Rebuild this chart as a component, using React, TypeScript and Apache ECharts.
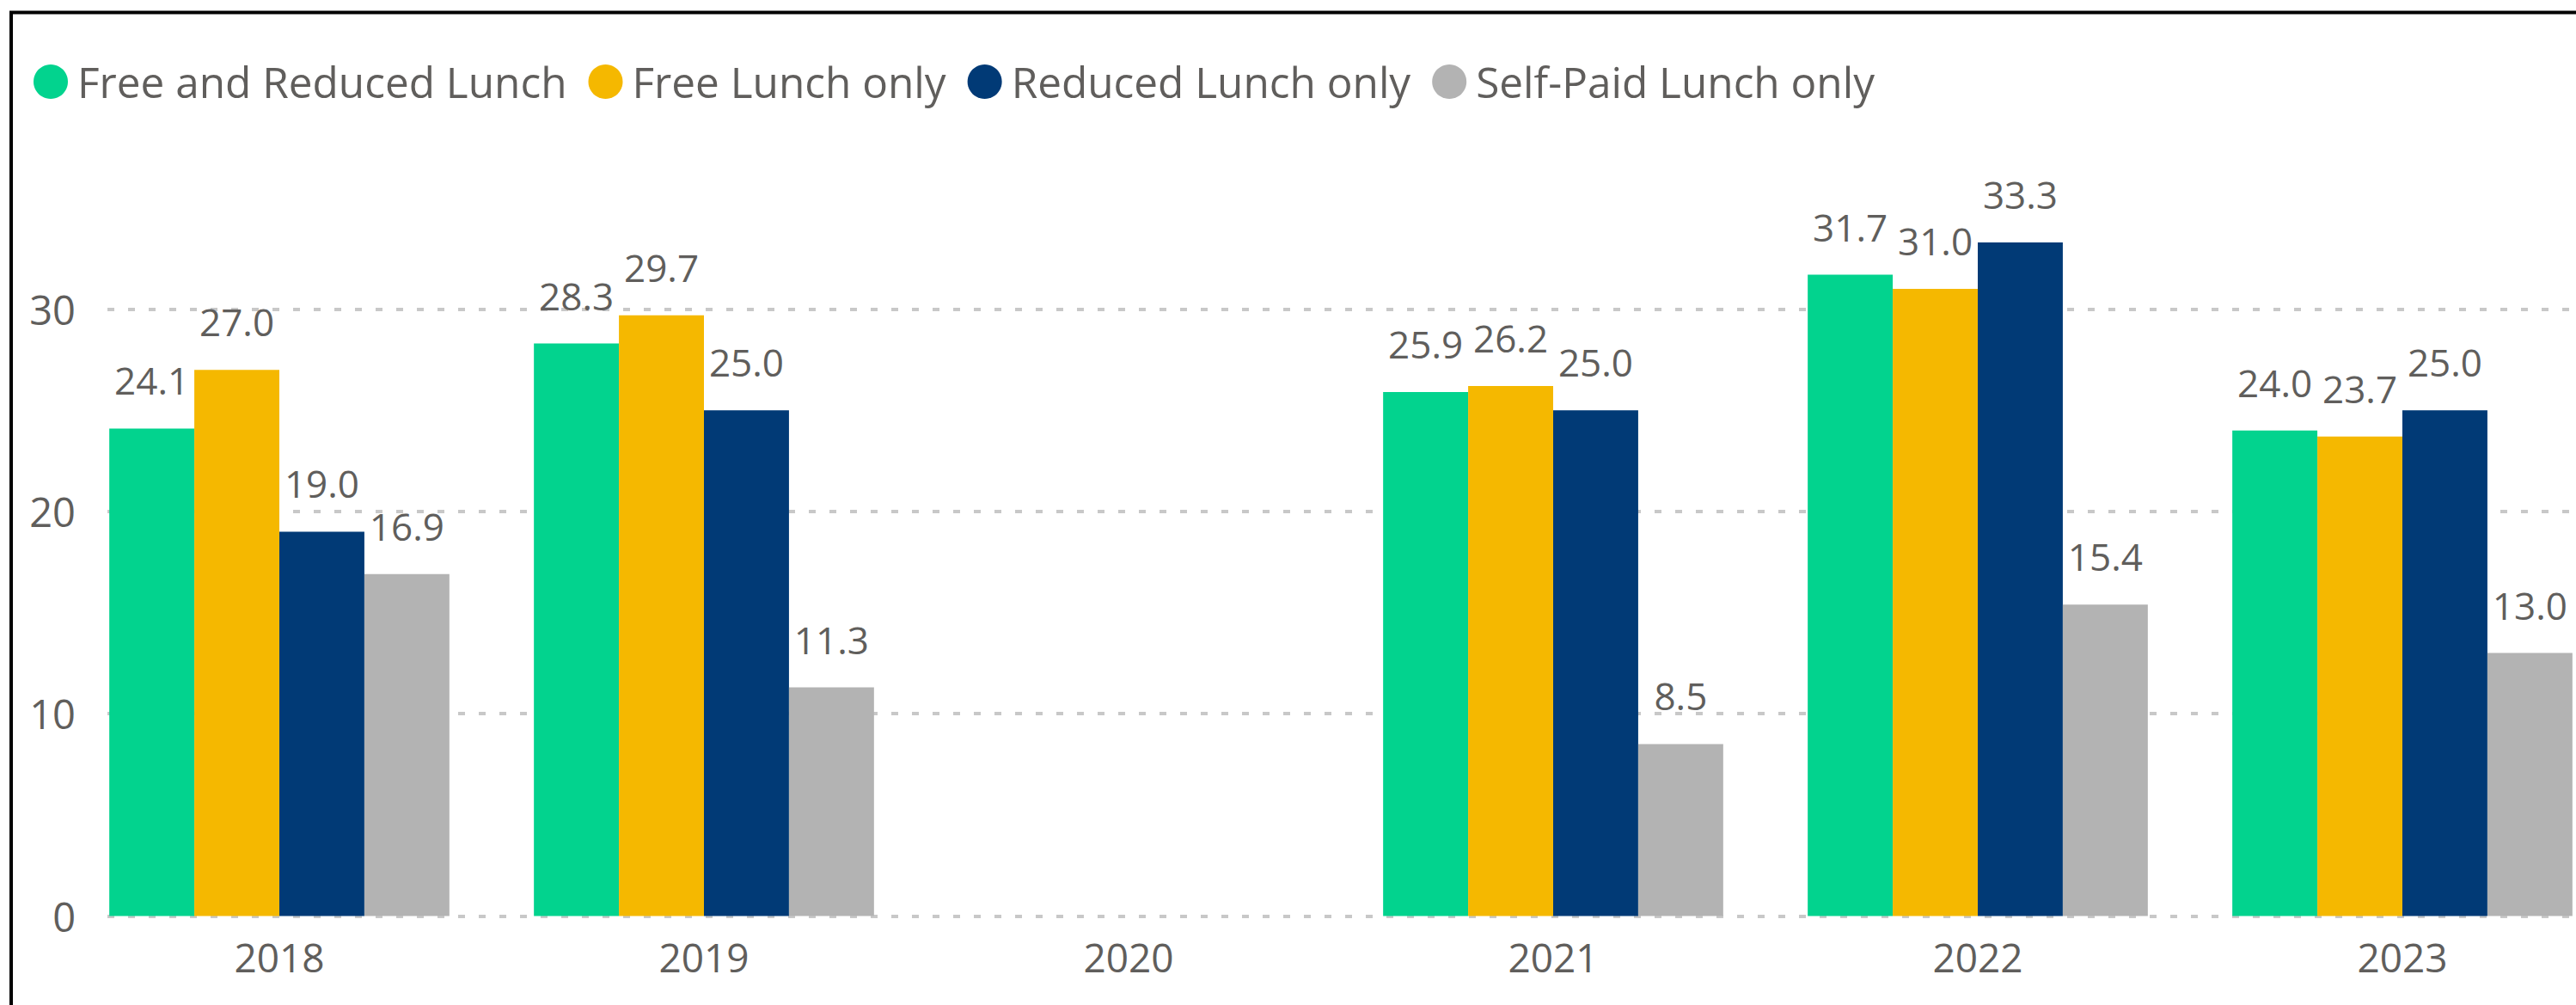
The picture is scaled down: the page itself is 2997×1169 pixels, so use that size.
import React, { useEffect, useRef } from "react";
import * as echarts from "echarts";

const categories = ["2018", "2019", "2020", "2021", "2022", "2023"];
const seriesNames = [
  "Free and Reduced Lunch",
  "Free Lunch only",
  "Reduced Lunch only",
  "Self-Paid Lunch only",
];
const freeAndReduced = [24.1, 28.3, null, 25.9, 31.7, 24.0];
const freeOnly = [27.0, 29.7, null, 26.2, 31.0, 23.7];
const reducedOnly = [19.0, 25.0, null, 25.0, 33.3, 25.0];
const selfPaid = [16.9, 11.3, null, 8.5, 15.4, 13.0];
const yTicks = [0, 10, 20, 30];

const colors = ["#02D38E", "#F5B800", "#013A76", "#B3B3B3"];
const textColor = "#605E5C";
const font = "'Open Sans', 'Noto Sans', sans-serif";

export default function App() {
  const ref = useRef<HTMLDivElement>(null);
  useEffect(() => {
    document.body.style.margin = "0";
    document.body.style.overflow = "hidden";
    document.documentElement.style.overflow = "hidden";
    if (!ref.current) return;
    const chart = echarts.init(ref.current, undefined, { renderer: "svg" });
    const values = [freeAndReduced, freeOnly, reducedOnly, selfPaid];
    const zeroY = 1065.5;
    const pxPerUnit = 23.53;
    const bottom = 1169 - zeroY;
    const band = 494;
    chart.setOption({
      animation: false,
      backgroundColor: "#ffffff",
      textStyle: { fontFamily: font },
      legend: {
        data: seriesNames,
        left: 39,
        top: 70,
        padding: 0,
        icon: "circle",
        itemWidth: 40,
        itemHeight: 40,
        itemGap: 25,
        textStyle: {
          color: textColor,
          fontSize: 49.5,
          lineHeight: 40,
          fontFamily: font,
          padding: [0, 0, 0, 6],
        },
      },
      grid: [
        {
          left: 325 - band / 2,
          width: band * 6,
          top: zeroY - 40 * pxPerUnit,
          bottom: bottom,
        },
        {
          left: 125,
          width: 2997 - 125 + 20,
          top: zeroY - yTicks[yTicks.length - 1] * pxPerUnit,
          bottom: bottom,
        },
      ],
      xAxis: [
        {
          type: "category",
          gridIndex: 0,
          data: categories,
          axisLine: { show: false },
          axisTick: { show: false },
          axisLabel: {
            color: textColor,
            fontSize: 46,
            fontFamily: font,
            margin: 24,
          },
          splitLine: { show: false },
        },
        {
          type: "category",
          gridIndex: 1,
          data: categories,
          show: false,
        },
      ],
      yAxis: [
        {
          type: "value",
          gridIndex: 0,
          min: 0,
          max: 40,
          interval: 10,
          show: false,
          splitLine: { show: false },
        },
        {
          type: "value",
          gridIndex: 1,
          min: yTicks[0],
          max: yTicks[yTicks.length - 1],
          interval: 10,
          axisLine: { show: false },
          axisTick: { show: false },
          axisLabel: {
            color: textColor,
            fontSize: 47,
            fontFamily: font,
            margin: 37,
          },
          splitLine: {
            show: true,
            lineStyle: { color: "#C8C8C8", width: 4, type: [8, 16] },
          },
        },
      ],
      series: seriesNames.map((name, i) => ({
        name,
        type: "bar",
        xAxisIndex: 0,
        yAxisIndex: 0,
        data: values[i],
        barGap: "0%",
        barCategoryGap: "19.9%",
        itemStyle: { color: colors[i] },
        label: {
          show: true,
          position: "top",
          distance: 34,
          color: textColor,
          fontSize: 44,
          fontFamily: font,
          formatter: (p: any) => (p.value == null ? "" : Number(p.value).toFixed(1)),
        },
      })),
      graphic: [
        {
          type: "rect",
          shape: { x: 13, y: 14.5, width: 3200, height: 1400 },
          style: { fill: "none", stroke: "#000000", lineWidth: 4 },
          z: 100,
          silent: true,
        },
      ],
    });
    return () => chart.dispose();
  }, []);
  return <div ref={ref} style={{ width: 3100, height: 1169 }} />;
}
